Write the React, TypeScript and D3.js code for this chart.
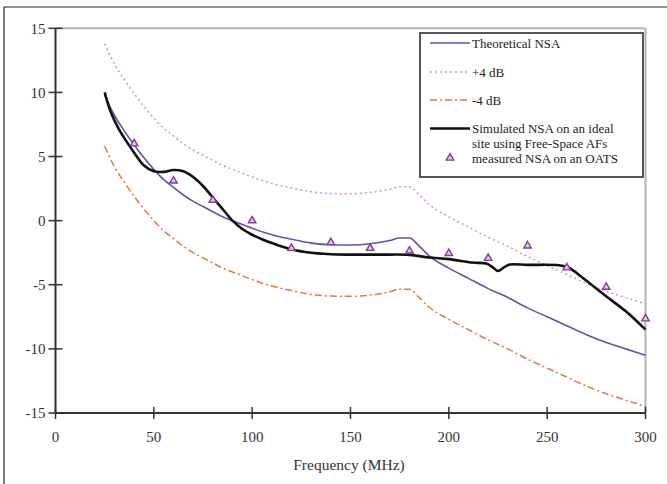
import React from "react";
import * as d3 from "d3";

// values (MHz, dB)
const theoFreq = [25, 30, 35, 40, 45, 50, 55, 60, 65, 70, 75, 80, 85, 90, 95, 100, 110, 120, 130, 140, 150, 160, 170, 175, 180, 185, 190, 200, 210, 220, 230, 240, 250, 260, 270, 280, 290, 300];
const theoNSA = [9.8, 8.2, 7.0, 5.9, 4.9, 4.0, 3.2, 2.6, 2.0, 1.5, 1.1, 0.7, 0.3, 0.0, -0.3, -0.6, -1.1, -1.45, -1.75, -1.88, -1.9, -1.8, -1.55, -1.35, -1.35, -2.0, -2.75, -3.7, -4.5, -5.3, -6.0, -6.8, -7.5, -8.2, -8.9, -9.5, -10.0, -10.5];
const plus4 = [13.8, 12.2, 11.0, 9.9, 8.9, 8.0, 7.2, 6.6, 6.0, 5.5, 5.1, 4.7, 4.3, 4.0, 3.7, 3.4, 2.9, 2.55, 2.25, 2.12, 2.1, 2.2, 2.45, 2.65, 2.65, 2.0, 1.25, 0.3, -0.5, -1.3, -2.0, -2.8, -3.5, -4.2, -4.9, -5.5, -6.0, -6.5];
const minus4 = [5.8, 4.2, 3.0, 1.9, 0.9, 0.0, -0.8, -1.4, -2.0, -2.5, -2.9, -3.3, -3.7, -4.0, -4.3, -4.6, -5.1, -5.45, -5.75, -5.88, -5.9, -5.8, -5.55, -5.35, -5.35, -6.0, -6.75, -7.7, -8.5, -9.3, -10.0, -10.8, -11.5, -12.2, -12.9, -13.5, -14.0, -14.5];

const simFreq = [25, 28, 32, 36, 40, 45, 50, 55, 60, 65, 70, 75, 80, 85, 90, 95, 100, 105, 110, 120, 130, 140, 150, 165, 180, 190, 200, 212, 219, 222, 225, 228, 231, 240, 256, 261, 268, 280, 290, 300];
const simNSA = [10.0, 8.5, 7.2, 6.2, 5.3, 4.3, 3.85, 3.8, 3.95, 3.85, 3.4, 2.7, 1.8, 0.9, 0.0, -0.65, -1.1, -1.45, -1.75, -2.25, -2.5, -2.62, -2.65, -2.65, -2.67, -2.88, -3.0, -3.27, -3.35, -3.6, -3.93, -3.65, -3.42, -3.45, -3.48, -3.67, -4.45, -5.9, -7.07, -8.5];

const measFreq = [40, 60, 80, 100, 120, 140, 160, 180, 200, 220, 240, 260, 280, 300];
const measNSA = [6.0, 3.1, 1.6, 0.0, -2.15, -1.7, -2.15, -2.36, -2.55, -2.93, -1.96, -3.67, -5.18, -7.65];

const xTicks = [0, 50, 100, 150, 200, 250, 300];
const yTicks = [-15, -10, -5, 0, 5, 10, 15];

const legendItems = ["Theoretical NSA", "+4 dB", "-4 dB"];
const simLabel = ["Simulated NSA on an ideal", "site using Free-Space AFs", "measured NSA on an OATS"];

const W = 667;
const H = 484;
const font = "Liberation Serif, Times New Roman, Times, serif";

export default function App() {
  const x = d3.scaleLinear().domain([0, 300]).range([55.5, 645.5]);
  const y = d3.scaleLinear().domain([-15, 15]).range([413, 28.3]);

  const zip = (fs: number[], vs: number[]) => fs.map((f, i) => [f, vs[i]] as [number, number]);

  const smooth = d3
    .line<[number, number]>()
    .x((d) => x(d[0]))
    .y((d) => y(d[1]))
    .curve(d3.curveMonotoneX);
  const simLine = d3
    .line<[number, number]>()
    .x((d) => x(d[0]))
    .y((d) => y(d[1]))
    .curve(d3.curveCatmullRom.alpha(0.5));

  const tri = d3.symbol().type(d3.symbolTriangle).size(24)();

  const [x0, x1] = x.range();
  const [yb, yt] = y.range();

  return (
    <svg width={W} height={H} style={{ position: "absolute", left: 0, top: 0, background: "#fff" }}>
      {/* outer frame */}
      <line x1={4} y1={7} x2={W} y2={7} stroke="#222" strokeWidth={1.2} />
      <line x1={4} y1={7} x2={4} y2={H} stroke="#222" strokeWidth={1.2} />

      {/* plot frame */}
      <line x1={x0} y1={yt} x2={x1} y2={yt} stroke="#b4b4b4" strokeWidth={2} />
      <line x1={x1} y1={yt} x2={x1} y2={yb} stroke="#b4b4b4" strokeWidth={2} />

      {/* series */}
      <path d={smooth(zip(theoFreq, plus4)) || ""} fill="none" stroke="#d291d8" strokeWidth={1.5} strokeDasharray="2,3" />
      <path d={smooth(zip(theoFreq, minus4)) || ""} fill="none" stroke="#f2703f" strokeWidth={1.5} strokeDasharray="7,3,2,3" />
      <path d={smooth(zip(theoFreq, theoNSA)) || ""} fill="none" stroke="#5a56a8" strokeWidth={1.6} />
      <path d={simLine(zip(simFreq, simNSA)) || ""} fill="none" stroke="#111" strokeWidth={2.6} />
      {measFreq.map((f, i) => (
        <path key={f} d={tri || ""} transform={`translate(${x(f)},${y(measNSA[i])})`} fill="#e2c8e8" stroke="#853a98" strokeWidth={1.4} />
      ))}

      {/* axes */}
      <line x1={x0} y1={yt} x2={x0} y2={yb} stroke="#333" strokeWidth={2} />
      <line x1={x0} y1={yb} x2={x1} y2={yb} stroke="#333" strokeWidth={2} />
      {yTicks.map((t) => (
        <g key={t}>
          <line x1={x0 - 7} x2={x0 + 7} y1={y(t)} y2={y(t)} stroke="#333" strokeWidth={1.5} />
          <text x={x0 - 10} y={y(t)} dy="0.35em" textAnchor="end" fontFamily={font} fontSize={15} fill="#333">
            {t}
          </text>
        </g>
      ))}
      {xTicks.map((t) => (
        <g key={t}>
          <line x1={x(t)} x2={x(t)} y1={yb - 6} y2={yb + 6} stroke="#333" strokeWidth={1.5} />
          <text x={x(t)} y={yb + 29} textAnchor="middle" fontFamily={font} fontSize={15} fill="#333">
            {t}
          </text>
        </g>
      ))}
      <text x={349} y={470} textAnchor="middle" fontFamily={font} fontSize={15.5} fill="#333">
        Frequency (MHz)
      </text>

      {/* legend */}
      <rect x={420} y={33} width={223} height={144} fill="#fff" stroke="#555" strokeWidth={2} />
      <line x1={430} x2={470} y1={43} y2={43} stroke="#5a56a8" strokeWidth={1.6} />
      <line x1={430} x2={470} y1={72} y2={72} stroke="#d291d8" strokeWidth={1.5} strokeDasharray="2,3" />
      <line x1={430} x2={470} y1={100} y2={100} stroke="#f2703f" strokeWidth={1.5} strokeDasharray="7,3,2,3" />
      <line x1={430} x2={470} y1={128.5} y2={128.5} stroke="#111" strokeWidth={2.6} />
      {legendItems.map((s, i) => (
        <text key={s} x={472} y={[43, 72, 100][i]} dy="0.35em" fontFamily={font} fontSize={13} fill="#222">
          {s}
        </text>
      ))}
      {simLabel.map((s, i) => (
        <text key={s} x={472} y={[128.5, 143.5, 158][i]} dy="0.35em" fontFamily={font} fontSize={13} fill="#222">
          {s}
        </text>
      ))}
      <path d={tri || ""} transform="translate(450,158)" fill="#e2c8e8" stroke="#853a98" strokeWidth={1.4} />
    </svg>
  );
}
